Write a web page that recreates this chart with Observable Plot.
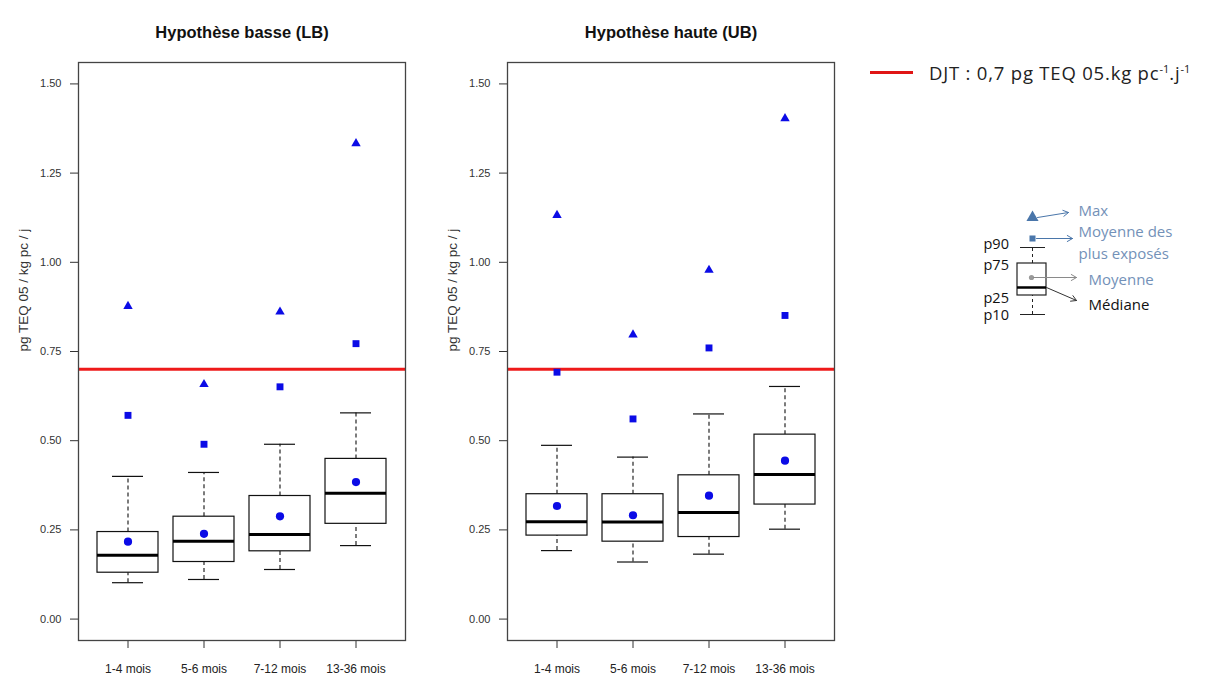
<!DOCTYPE html>
<html lang="fr">
<head>
<meta charset="utf-8">
<title>Exposition aux PCDD/F et PCB-DL – enfants de 1 à 36 mois</title>
<script src="https://cdn.jsdelivr.net/npm/d3@7"></script>
<script src="https://cdn.jsdelivr.net/npm/@observablehq/plot@0.6"></script>
<style>
  html, body { margin: 0; padding: 0; background: #fff; }
  #page { position: relative; width: 1212px; height: 675px; overflow: hidden; background: #fff; }
  .panel { position: absolute; top: 0; }
  #djt { position: absolute; left: 870px; top: 58px; height: 28px; display: flex; align-items: center;
         font-family: "Open Sans", "Noto Sans", sans-serif; font-size: 18.5px; letter-spacing: 0.8px; color: #222; white-space: nowrap; }
  #djt .swatch { width: 43px; height: 3px; background: #e01515; margin-right: 16px; }
  #djt sup { font-size: 11px; vertical-align: 7px; line-height: 0; letter-spacing: 0; }
  #inset { position: absolute; left: 960px; top: 195px; }
</style>
</head>
<body>
<div id="page">
  <div id="left" class="panel" style="left:0px"></div>
  <div id="right" class="panel" style="left:429px"></div>
  <div id="djt"><span class="swatch"></span><span>DJT : 0,7 pg TEQ 05.kg pc<sup>-1</sup>.j<sup>-1</sup></span></div>
  <div id="inset"></div>
</div>
<script>
// Age classes
const categories = ["1-4 mois", "5-6 mois", "7-12 mois", "13-36 mois"];

// Tolerable daily intake (pg TEQ 05 / kg pc / j)
const djt = 0.7;

// Lower-bound hypothesis (LB): distribution of exposure per age class
const lbP10 = [0.102, 0.111, 0.139, 0.206];
const lbP25 = [0.130, 0.160, 0.190, 0.267];
const lbMedian = [0.179, 0.218, 0.237, 0.353];
const lbP75 = [0.244, 0.287, 0.345, 0.449];
const lbP90 = [0.400, 0.411, 0.490, 0.578];
const lbMean = [0.217, 0.239, 0.288, 0.384];
const lbMeanHigh = [0.571, 0.490, 0.651, 0.772];
const lbMax = [0.877, 0.658, 0.861, 1.333];

// Upper-bound hypothesis (UB)
const ubP10 = [0.192, 0.160, 0.182, 0.252];
const ubP25 = [0.234, 0.217, 0.230, 0.321];
const ubMedian = [0.273, 0.272, 0.299, 0.405];
const ubP75 = [0.350, 0.350, 0.403, 0.517];
const ubP90 = [0.487, 0.454, 0.575, 0.652];
const ubMean = [0.317, 0.291, 0.346, 0.444];
const ubMeanHigh = [0.692, 0.561, 0.760, 0.851];
const ubMax = [1.132, 0.797, 0.978, 1.403];

// Y-axis ticks
const yTicks = [0, 0.25, 0.5, 0.75, 1.0, 1.25, 1.5];

// Schematic distribution for the reading key
const keyStats = { p10: 11, p25: 30, median: 38, mean: 48, p75: 62, p90: 78, meanHigh: 87, max: 108 };
const keyPercentileLabels = ["p90", "p75", "p25", "p10"];

function rowsFor(p10, p25, med, p75, p90, mean, meanHigh, max) {
  return categories.map((cat, i) => ({
    cat, p10: p10[i], p25: p25[i], median: med[i], p75: p75[i], p90: p90[i],
    mean: mean[i], meanHigh: meanHigh[i], max: max[i]
  }));
}

const BLUE = "#0b0be6";

function panel(title, rows) {
  return Plot.plot({
    width: 420,
    height: 675,
    marginLeft: 78,
    marginRight: 15,
    marginTop: 62,
    marginBottom: 35,
    style: { fontFamily: "'Liberation Sans', Arial, sans-serif", fontSize: "11px", color: "#333", background: "transparent" },
    x: { type: "band", domain: categories, paddingInner: 0.2, paddingOuter: 0.243 },
    y: { domain: [-0.06, 1.56] },
    marks: [
      Plot.axisY({ ticks: yTicks, tickFormat: ".2f", tickSize: 8, tickPadding: 9, fontSize: 11, label: null, stroke: "#333", fill: "#333" }),
      Plot.axisX({ tickSize: 8, tickPadding: 16, fontSize: 12, label: null, stroke: "#333", fill: "#222" }),
      // whiskers p10–p25 and p75–p90
      Plot.ruleX(rows, { x: "cat", y1: "p10", y2: "p25", stroke: "#111", strokeWidth: 1.1, strokeDasharray: "4,3" }),
      Plot.ruleX(rows, { x: "cat", y1: "p75", y2: "p90", stroke: "#111", strokeWidth: 1.1, strokeDasharray: "4,3" }),
      Plot.tickY(rows, { x: "cat", y: "p10", stroke: "#111", strokeWidth: 1.2, insetLeft: 15, insetRight: 15 }),
      Plot.tickY(rows, { x: "cat", y: "p90", stroke: "#111", strokeWidth: 1.2, insetLeft: 15, insetRight: 15 }),
      // interquartile box and median
      Plot.barY(rows, { x: "cat", y1: "p25", y2: "p75", fill: "white", stroke: "#111", strokeWidth: 1.2 }),
      Plot.tickY(rows, { x: "cat", y: "median", stroke: "#000", strokeWidth: 3 }),
      // tolerable daily intake
      Plot.ruleY([djt], { stroke: "#ee1a1a", strokeWidth: 3 }),
      // mean, mean of the most exposed, maximum
      Plot.dot(rows, { x: "cat", y: "mean", symbol: "circle", r: 4.1, fill: BLUE }),
      Plot.dot(rows, { x: "cat", y: "meanHigh", symbol: "square", r: 3.9, fill: BLUE }),
      Plot.dot(rows, { x: "cat", y: "max", symbol: "triangle", r: 3.5, fill: BLUE }),
      Plot.frame({ stroke: "#444", strokeWidth: 1.3 }),
      // panel title and axis label
      Plot.text([title], { text: d => d, frameAnchor: "top", dy: -36, fontSize: 16.5, fontWeight: "bold", fill: "#111" }),
      Plot.text(["pg TEQ 05 / kg pc / j"], { text: d => d, frameAnchor: "left", dx: -55, rotate: -90, fontSize: 13.5, fill: "#333" })
    ]
  });
}

document.getElementById("left").append(
  panel("Hypothèse basse (LB)", rowsFor(lbP10, lbP25, lbMedian, lbP75, lbP90, lbMean, lbMeanHigh, lbMax))
);
document.getElementById("right").append(
  panel("Hypothèse haute (UB)", rowsFor(ubP10, ubP25, ubMedian, ubP75, ubP90, ubMean, ubMeanHigh, ubMax))
);

// Reading key: schematic box with labelled statistics
const k = keyStats;
const cx = 72;          // box centre
const keyBlue = "#4a76aa";
const keyText = "#7391b8";
const pLabelY = { p90: k.p90 + 3, p75: k.p75 - 2, p25: k.p25 - 3, p10: k.p10 - 1 };
document.getElementById("inset").append(Plot.plot({
  width: 230,
  height: 130,
  margin: 0,
  style: { fontFamily: "'Open Sans', 'Noto Sans', sans-serif", background: "transparent" },
  x: { domain: [0, 230], axis: null },
  y: { domain: [0, 130], axis: null },
  marks: [
    Plot.ruleX([k], { x: cx, y1: "p10", y2: "p25", stroke: "#222", strokeDasharray: "3,3" }),
    Plot.ruleX([k], { x: cx, y1: "p75", y2: "p90", stroke: "#222", strokeDasharray: "3,3" }),
    Plot.ruleY([k], { y: "p10", x1: cx - 12, x2: cx + 13, stroke: "#222" }),
    Plot.ruleY([k], { y: "p90", x1: cx - 12, x2: cx + 13, stroke: "#222" }),
    Plot.rect([k], { x1: cx - 15, x2: cx + 14, y1: "p25", y2: "p75", fill: "white", stroke: "#222", strokeWidth: 1.2 }),
    Plot.ruleY([k], { y: "median", x1: cx - 15, x2: cx + 14, stroke: "#000", strokeWidth: 2.5 }),
    Plot.dot([k], { x: cx - 1, y: "mean", r: 2.6, fill: "#999", stroke: null }),
    Plot.dot([k], { x: cx, y: "meanHigh", symbol: "square", r: 3.4, fill: keyBlue }),
    Plot.dot([k], { x: cx, y: "max", symbol: "triangle", r: 4.5, fill: keyBlue }),
    Plot.arrow([k], { x1: cx + 5, y1: "max", x2: cx + 36, y2: d => d.max + 5, stroke: keyBlue, strokeWidth: 1, headLength: 9 }),
    Plot.arrow([k], { x1: cx + 4, y1: "meanHigh", x2: cx + 40, y2: "meanHigh", stroke: keyBlue, strokeWidth: 1, headLength: 9 }),
    Plot.arrow([k], { x1: cx + 1, y1: "mean", x2: cx + 44, y2: "mean", stroke: "#8a8a8a", strokeWidth: 1, headLength: 9 }),
    Plot.arrow([k], { x1: cx + 14, y1: "median", x2: cx + 44, y2: d => d.median - 13, stroke: "#333", strokeWidth: 1, headLength: 9 }),
    Plot.text([k], { x: cx + 46, y: d => d.max + 6, text: () => "Max", textAnchor: "start", fontSize: 15, fill: keyText }),
    Plot.text([k], { x: cx + 46, y: d => d.meanHigh + 6, text: () => "Moyenne des", textAnchor: "start", fontSize: 15, fill: keyText }),
    Plot.text([k], { x: cx + 46, y: d => d.meanHigh - 16, text: () => "plus exposés", textAnchor: "start", fontSize: 15, fill: keyText }),
    Plot.text([k], { x: cx + 56, y: d => d.mean - 3, text: () => "Moyenne", textAnchor: "start", fontSize: 15, fill: keyText }),
    Plot.text([k], { x: cx + 56, y: d => d.median - 18, text: () => "Médiane", textAnchor: "start", fontSize: 15, fill: "#111" }),
    Plot.text(keyPercentileLabels, { x: 23, y: d => pLabelY[d], text: d => d, textAnchor: "start", fontSize: 14.5, fill: "#111" })
  ]
}));
</script>
</body>
</html>
